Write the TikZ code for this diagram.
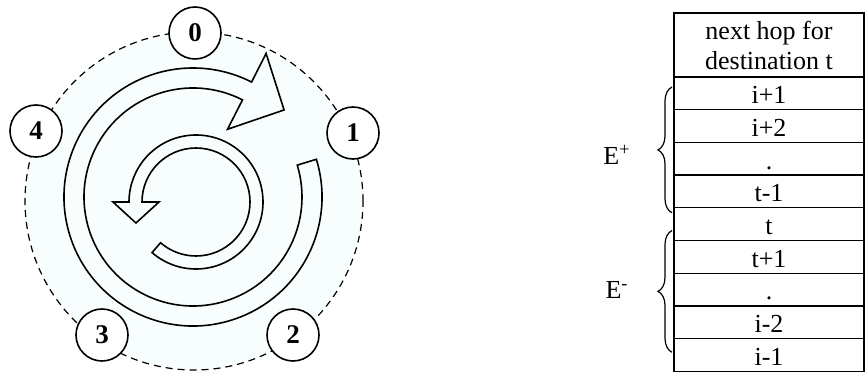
\documentclass[tikz,border=0pt]{standalone}
\usepackage{fontspec}
\setmainfont{Liberation Serif}
\usetikzlibrary{positioning, decorations.pathreplacing}
\definecolor{diskblue}{RGB}{248,253,254}
\tikzset{
    % ring of routers
    hop/.style  = {draw, circle, fill=white, line width=0.8pt, minimum size=26pt,
                   inner sep=0pt, font=\fontsize{13.5}{15}\selectfont\bfseries},
    ring/.style = {draw, dashed, dash pattern=on 3.5pt off 2.5pt, line width=0.6pt},
    band/.style = {draw, line width=0.8pt, fill=diskblue, line join=miter},
    % table and braces
    cell/.style = {draw, line width=0.6pt, minimum width=95pt, minimum height=16.35pt,
                   inner sep=0pt, outer sep=0pt, text height=10.3pt, text depth=0pt},
    brace/.style = {decorate, decoration={brace, amplitude=7pt}, line width=0.6pt}
}

\begin{document}
\begin{tikzpicture}[x=0.5pt, y=0.5pt, font=\fontsize{13}{15}\selectfont]
    \useasboundingbox (0,0) rectangle (865,375);

    % dashed ring with its pale disk
    \fill[diskblue] (194,174) circle[radius=169];
    \draw[ring] (194,174) circle[radius=169];

    % big clockwise arrow
    \begin{scope}[shift={(193,178)}]
        \draw[band] (17:129) arc[start angle=17, end angle=-297, radius=129]
            -- (-297:161) -- (-316.3:126) -- (-297:76) -- (-297:109)
            arc[start angle=-297, end angle=17, radius=109] -- cycle;
    \end{scope}

    % small counter-clockwise arrow
    \begin{scope}[shift={(196,173)}]
        \draw[band] (229:67) arc[start angle=229, end angle=540, radius=67]
            -- (180:83) -- (199.3:63.6) -- (180:37) -- (180:54)
            arc[start angle=540, end angle=229, radius=54] -- cycle;
    \end{scope}

    % routers
    \node (r0) [hop] at (195,342) {0};
    \node (r1) [hop] at (353,242) {1};
    \node (r2) [hop] at (293,40)  {2};
    \node (r3) [hop] at (102,40)  {3};
    \node (r4) [hop] at (36,244)  {4};

    % next hop table
    \node (head) [cell, minimum height=32pt, text height=, text depth=, align=center]
        at (769,330) {next hop for\\destination t};
    \node (ip1)   [cell, below=0pt of head]  {i+1};
    \node (ip2)   [cell, below=0pt of ip1]   {i+2};
    \node (dotsa) [cell, below=0pt of ip2]   {.};
    \node (tm1)   [cell, below=0pt of dotsa] {t-1};
    \node (t)     [cell, below=0pt of tm1]   {t};
    \node (tp1)   [cell, below=0pt of t]     {t+1};
    \node (dotsb) [cell, below=0pt of tp1]   {.};
    \node (im2)   [cell, below=0pt of dotsb] {i-2};
    \node (im1)   [cell, below=0pt of im2]   {i-1};

    % E+ and E- groups
    \draw[brace] ([xshift=-1pt, yshift=-2.5pt]tm1.south west) -- ([xshift=-1pt, yshift=-5pt]ip1.north west);
    \draw[brace] ([xshift=-1pt, yshift=9.5pt]im1.south west) -- ([xshift=-1pt, yshift=5pt]t.south west);
    \node (eplus)  at (617,220) {E\textsuperscript{+}};
    \node (eminus) at (617,85)  {E\textsuperscript{-}};
\end{tikzpicture}
\end{document}
